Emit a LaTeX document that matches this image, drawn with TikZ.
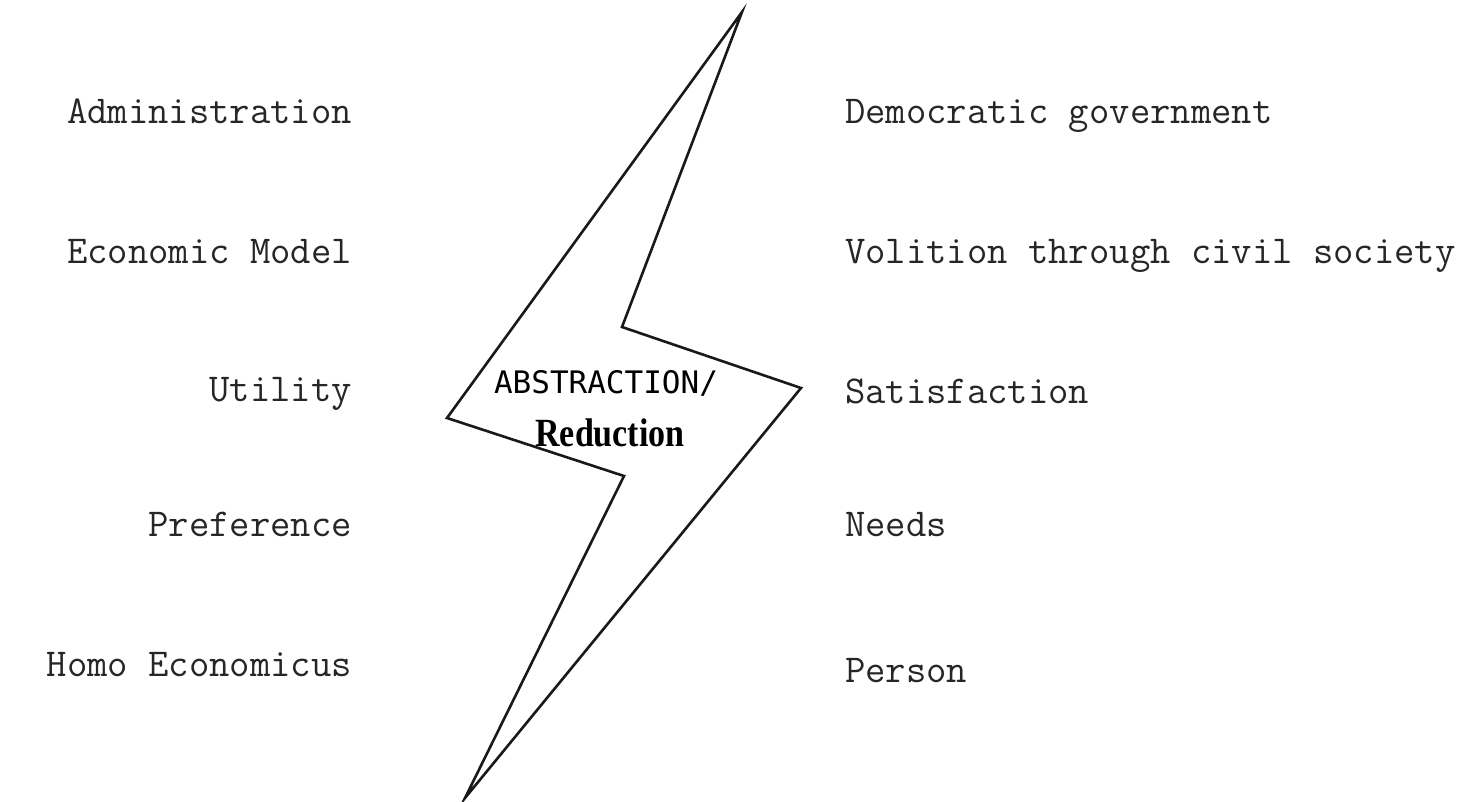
\documentclass[tikz,border=0pt]{standalone}
\usepackage{fontspec}
\usepackage{graphicx}
\newfontfamily\abstrfont{DejaVu Sans Mono}
\newfontfamily\redfont{Liberation Serif}
\begin{document}
\begin{tikzpicture}[x=1pt,y=-1pt,
  lbl/.style={font=\fontsize{39.5}{44}\ttfamily, inner sep=0pt, text=black!85},
  lft/.style={lbl, anchor=base east},
  rgt/.style={lbl, anchor=base west},
  bolt/.style={draw=black!90, line width=2.6pt, line join=miter}]
\useasboundingbox (0,0) rectangle (1462,801);
\coordinate (t) at (742,12);
\coordinate (a) at (622,327);
\coordinate (b) at (801,388);
\coordinate (bot) at (465,798);
\coordinate (c) at (624,476);
\coordinate (d) at (447,418);
\draw[bolt] (t) -- (a) -- (b) -- (bot) -- (c) -- (d) -- cycle;
\node[lft] (l1) at (352,123) {Administration};
\node[lft] (l2) at (352,263) {Economic Model};
\node[lft] (l3) at (352,401) {Utility};
\node[lft] (l4) at (352,536) {Preference};
\node[lft] (l5) at (352,676) {Homo Economicus};
\node[rgt] (r1) at (845,123) {Democratic government};
\node[rgt] (r2) at (845,263) {Volition through civil society};
\node[rgt] (r3) at (845,403) {Satisfaction};
\node[rgt] (r4) at (845,536) {Needs};
\node[rgt] (r5) at (845,682) {Person};
\node[font=\fontsize{31}{34}\abstrfont, inner sep=0pt, anchor=base] (abs) at (606,393) {ABSTRACTION/};
\node[font=\fontsize{40}{44}\redfont\bfseries, inner sep=0pt, anchor=base] (red) at (610,446) {\scalebox{0.85}[1]{Reduction}};
\end{tikzpicture}
\end{document}
